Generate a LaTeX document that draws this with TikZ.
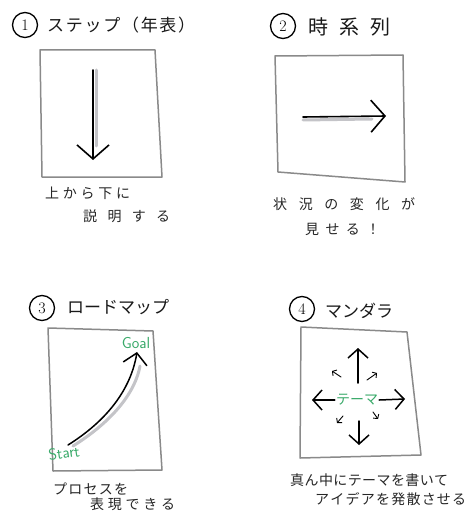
\documentclass[tikz,border=0pt]{standalone}
\usepackage{fontspec}
\newfontfamily\jp{Noto Sans CJK JP}
\usetikzlibrary{arrows.meta}
\definecolor{boxgray}{HTML}{8A8A8A}
\definecolor{shadegray}{HTML}{C4C4C8}
\definecolor{mygreen}{HTML}{3AAA6A}
\makeatletter
\newcommand\spread[2]{\makebox[#1][s]{\def\trk@sep{}\@tfor\trk@c:=#2\do{\trk@sep\trk@c\def\trk@sep{\hspace{0pt plus 1fil}}}}}
\makeatother
\tikzset{
  panelbox/.style={draw=boxgray, line width=1.5pt, line join=round, line cap=round},
  captext/.style={font=\jp\fontsize{14}{14}\selectfont, anchor=west, inner sep=0pt, text=black!85},
  titletext/.style={font=\jp\fontsize{17}{17}\selectfont, anchor=west, inner sep=0pt, text=black!90},
  numcircle/.style={draw, circle, line width=1.3pt, minimum size=25pt, inner sep=0pt, font=\fontsize{16}{16}\selectfont},
  bigarrow/.style={line width=1.6pt, line cap=round, -{Straight Barb[length=14pt,width=32pt]}},
  midarrow/.style={line width=1.5pt, line cap=round, -{Straight Barb[length=9pt,width=20pt]}},
  tinyarrow/.style={line width=0.9pt, line cap=round, -{Straight Barb[length=3pt,width=7pt]}},
  shade/.style={draw=shadegray, line width=3pt, line cap=round},
  greenlabel/.style={text=mygreen, inner sep=0pt, font=\fontsize{16}{16}\selectfont\sffamily}
}
\begin{document}
\begin{tikzpicture}[x=1pt,y=-1pt]
\useasboundingbox (0,0) rectangle (466,513);
\fill[white] (0,0) rectangle (466,513);

% ---------- Panel 1 ----------
\node[numcircle] (n1) at (25,25) {1};
\node[titletext] (t1) at (47,25) {\spread{148pt}{ステップ（年表）}};
\coordinate (a1) at (40,50); \coordinate (b1) at (155,50);
\coordinate (c1) at (162,177); \coordinate (d1) at (42,177);
\draw[panelbox] (a1) -- (b1) -- (c1) -- (d1) -- cycle;
\coordinate (s1) at (93,70); \coordinate (e1) at (93,160);
\draw[shade] ([xshift=3pt]s1) -- ([xshift=3pt,yshift=14pt]e1);
\draw[bigarrow] (s1) -- (e1);
\node[captext] (c1a) at (45,193) {\spread{85pt}{上から下に}};
\node[captext] (c1b) at (83,216) {\spread{87pt}{説明する}};

% ---------- Panel 2 ----------
\node[numcircle] (n2) at (283,26) {2};
\node[titletext, font=\jp\fontsize{20}{20}\selectfont] (t2) at (308,27) {\spread{82pt}{時系列}};
\coordinate (a2) at (275,56); \coordinate (b2) at (403,55);
\coordinate (c2) at (405,182); \coordinate (d2) at (278,172);
\draw[panelbox] (a2) -- (b2) -- (c2) -- (d2) -- cycle;
\coordinate (s2) at (303,117); \coordinate (e2) at (386,116);
\draw[shade] ([yshift=-3pt]s2) -- ([xshift=-14pt,yshift=-3pt]e2);
\draw[bigarrow] (s2) -- (e2);
\node[captext] (c2a) at (273,204) {\spread{142pt}{状況の変化が}};
\node[captext] (c2b) at (305,229) {\spread{75pt}{見せる！}};

% ---------- Panel 3 ----------
\node[numcircle] (n3) at (42,308) {3};
\node[titletext] (t3) at (67,307) {\spread{98pt}{ロードマップ}};
\coordinate (a3) at (48,328); \coordinate (b3) at (153,331);
\coordinate (c3) at (162,470); \coordinate (d3) at (53,471);
\draw[panelbox] (a3) -- (b3) -- (c3) -- (d3) -- cycle;
\coordinate (s3) at (68,445); \coordinate (e3) at (137,352);
\draw[shade] (73,446) .. controls (105,426) and (134,398) .. (140,366);
\draw[line width=1.5pt, line cap=round, -{Straight Barb[length=11pt,width=24pt]}] (s3) .. controls (100,425) and (130,395) .. (e3);
\node[greenlabel] (goal) at (136,343) {Goal};
\node[greenlabel, rotate=8] (start) at (64,453) {Start};
\node[captext] (c3a) at (53,489) {\spread{75pt}{プロセスを}};
\node[captext] (c3b) at (90,504) {\spread{85pt}{表現できる}};

% ---------- Panel 4 ----------
\node[numcircle] (n4) at (302,309) {4};
\node[titletext] (t4) at (325,311) {\spread{68pt}{マンダラ}};
\coordinate (a4) at (301,327); \coordinate (b4) at (407,332);
\coordinate (c4) at (421,455); \coordinate (d4) at (300,458);
\draw[panelbox] (a4) -- (b4) -- (c4) -- (d4) -- cycle;
\node[text=mygreen, inner sep=1pt, font=\jp\fontsize{14}{14}\selectfont] (theme) at (357,400) {テーマ};
\coordinate (up) at (358,348); \coordinate (dn) at (359,445);
\coordinate (lf) at (312,400); \coordinate (rt) at (405,399);
\draw[midarrow] (358,383) -- (up);
\draw[midarrow] (359,421) -- (dn);
\draw[midarrow] (theme.west) -- (lf);
\draw[midarrow] (theme.east) -- (rt);
\coordinate (nw) at (332,371); \coordinate (ne) at (377,373);
\coordinate (sw) at (337,423); \coordinate (se) at (378,419);
\draw[tinyarrow] (341,377) -- (nw);
\draw[tinyarrow] (367,380) -- (ne);
\draw[tinyarrow] (343,416) -- (sw);
\draw[tinyarrow] (373,412) -- (se);
\node[captext] (c4a) at (290,480) {\spread{158pt}{真ん中にテーマを書いて}};
\node[captext] (c4b) at (315,499) {\spread{151pt}{アイデアを発散させる}};
\end{tikzpicture}
\end{document}
